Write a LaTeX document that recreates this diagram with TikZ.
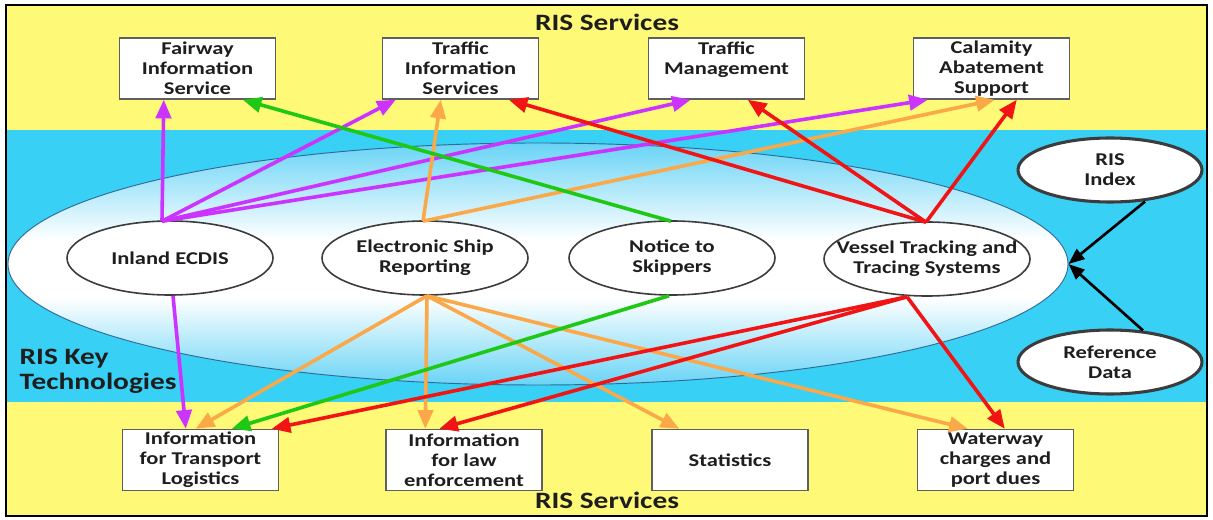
\documentclass[tikz,border=0pt]{standalone}
\usepackage{fontspec}
\setmainfont[FakeStretch=1.25]{Carlito}
\usetikzlibrary{arrows.meta,shapes.geometric,calc}
\definecolor{yellowbg}{RGB}{255,249,120}
\definecolor{bluebg}{RGB}{56,208,245}
\definecolor{ellblue}{RGB}{105,212,246}
\definecolor{ellrim}{RGB}{50,105,150}
\definecolor{boxgray}{RGB}{95,95,95}
\definecolor{ellgray}{RGB}{60,60,60}
\definecolor{txt}{RGB}{30,30,30}
\definecolor{cpur}{RGB}{204,51,255}
\definecolor{cora}{RGB}{250,168,72}
\definecolor{cgre}{RGB}{30,200,20}
\definecolor{cred}{RGB}{240,20,20}
\pgfdeclareverticalshading{kshade}{100bp}{color(0bp)=(ellblue); color(25bp)=(ellblue);
  color(43bp)=(white); color(55bp)=(white); color(75bp)=(ellblue); color(100bp)=(ellblue)}
\newcommand\boxfnt{\bfseries\fontsize{13.5}{15}\selectfont}
\newcommand\secfnt{\bfseries\fontsize{17.6}{18.75}\selectfont}
\begin{document}
\begin{tikzpicture}[x=0.75pt,y=-0.75pt,
  svc/.style={draw=boxgray,line width=1.1pt,fill=white,minimum width=117pt,
    minimum height=45.75pt,inner sep=0pt,align=center,font=\boxfnt,text=txt},
  tech/.style={ellipse,draw=ellgray,line width=1.2pt,fill=white,
    minimum width=154.5pt,minimum height=55.5pt,inner sep=0pt},
  refell/.style={ellipse,draw=ellgray,line width=2.3pt,fill=white,
    minimum width=138pt,minimum height=48pt,inner sep=0pt},
  ltxt/.style={font=\boxfnt,align=center,text=txt},
  sec/.style={font=\secfnt,text=txt},
  conn/.style={line width=2.7pt,-{Triangle[length=14pt,width=11.5pt]}},
  pur/.style={conn,color=cpur},
  ora/.style={conn,color=cora},
  gre/.style={conn,color=cgre},
  rdd/.style={conn,color=cred},
  blk/.style={line width=2pt,color=black,-{Triangle[length=12pt,width=9.5pt]}}
]
\useasboundingbox (0,0) rectangle (1213,520);
% background
\fill[white] (0,0) rectangle (1213,520);
\fill[yellowbg] (6,5) rectangle (1207,516);
\fill[bluebg] (6,130) rectangle (1207,402);
\draw[black,line width=2pt] (6,5) rectangle (1207,516);

% key technologies ellipse
\node[ellipse,draw=ellrim,line width=0.7pt,minimum width=795pt,minimum height=181.5pt,
  shading=kshade,inner sep=0pt] (ksys) at (538,264) {};

% section labels
\node[sec] (svtop) at (607,22) {RIS Services};
\node[sec] (svbot) at (607,500) {RIS Services};
\node[sec,anchor=west,align=left] (keytech) at (15,371) {RIS Key\\Technologies};

% service boxes (top)
\node[svc] (fis) at (197.5,68.5) {Fairway\\Information\\Service};
\node[svc] (tis) at (460.5,68.5) {Traffic\\Information\\Services};
\node[svc] (tm)  at (726.5,68.5) {Traffic\\Management\\\mbox{}};
\node[svc] (cas) at (991.5,68.5) {Calamity\\Abatement\\Support};
% service boxes (bottom)
\node[svc] (itl)  at (200.5,460) {Information\\for Transport\\Logistics};
\node[svc] (ile)  at (464,460)   {Information\\for law\\enforcement};
\node[svc] (stat) at (730,460)   {Statistics};
\node[svc] (ww)   at (995.5,460) {Waterway\\charges and\\port dues};

% technologies
\node[tech,label={[ltxt]center:Inland ECDIS}] (ie) at (170,258) {};
\node[tech,label={[ltxt]center:Electronic Ship\\Reporting}] (esr) at (425,258) {};
\node[tech,label={[ltxt]center:Notice to\\Skippers}] (nts) at (672,258) {};
\node[tech,label={[ltxt]center:Vessel Tracking and\\Tracing Systems}] (vt) at (927,259) {};
\node[refell,label={[ltxt]center:RIS\\Index}] (ri) at (1110,170) {};
\node[refell,label={[ltxt]center:Reference\\Data}] (rd) at (1110,362) {};

% purple: Inland ECDIS
\draw[pur] ($(ie.north)+(-8,1)$) -- ($(fis.south west)+(45,0)$);
\draw[pur] ($(ie.north)+(-8,1)$) -- ($(tis.south west)+(14,0)$);
\draw[pur] ($(ie.north)+(-8,1)$) -- ($(tm.south west)+(43,0)$);
\draw[pur] ($(ie.north)+(-8,1)$) -- ($(cas.south west)+(15,0)$);
\draw[pur] ($(ie.south)+(3,0)$) -- ($(itl.north west)+(64,0)$);

% orange: Electronic Ship Reporting
\draw[ora] ($(esr.north)+(-2,1)$) -- ($(tis.south west)+(59,0)$);
\draw[ora] ($(esr.north)+(-2,1)$) -- ($(cas.south west)+(82,0)$);
\draw[ora] ($(esr.south)+(2,0)$) -- ($(itl.north west)+(74,0)$);
\draw[ora] ($(esr.south)+(2,0)$) -- ($(ile.north west)+(40,0)$);
\draw[ora] ($(esr.south)+(2,0)$) -- ($(stat.north west)+(28,0)$);
\draw[ora] ($(esr.south)+(2,0)$) -- ($(ww.north west)+(51,0)$);

% green: Notice to Skippers
\draw[gre] ($(nts.north)+(-1,1)$) -- ($(fis.south west)+(124,0)$);
\draw[gre] ($(nts.south)+(-3,0)$) -- ($(itl.north west)+(110,0)$);

% red: Vessel Tracking and Tracing Systems
\draw[rdd] ($(vt.north)+(-1,1)$) -- ($(tis.south west)+(127,0)$);
\draw[rdd] ($(vt.north)+(-1,1)$) -- ($(tm.south west)+(100,0)$);
\draw[rdd] ($(vt.north)+(-1,1)$) -- ($(cas.south west)+(104,0)$);
\draw[rdd] ($(vt.south)+(-20,0)$) -- ($(itl.north west)+(150,0)$);
\draw[rdd] ($(vt.south)+(-20,0)$) -- ($(ile.north west)+(54,0)$);
\draw[rdd] ($(vt.south)+(-20,0)$) -- ($(ww.north west)+(88,0)$);

% black: reference inputs
\draw[blk] ($(ri.south)+(35,-2)$) -- (ksys.east);
\draw[blk] ($(rd.north)+(33,2)$) -- (ksys.east);
\end{tikzpicture}
\end{document}
